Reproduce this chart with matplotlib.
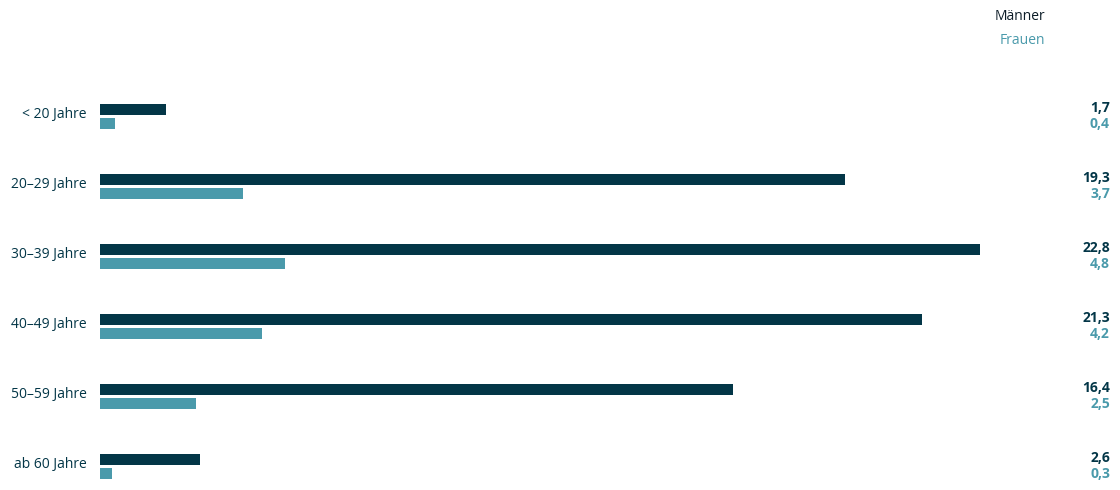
import matplotlib
matplotlib.use("Agg")
import matplotlib.pyplot as plt
import numpy as np

# ── data ──────────────────────────────────────────────────────────────────────
categories = ["< 20 Jahre", "20–29 Jahre", "30–39 Jahre",
              "40–49 Jahre", "50–59 Jahre", "ab 60 Jahre"]
maenner = [1.7, 19.3, 22.8, 21.3, 16.4, 2.6]
frauen  = [0.4, 3.7, 4.8, 4.2, 2.5, 0.3]

DARK = "#033647"
TEAL = "#4a9aab"

plt.rcParams["font.family"] = ["Open Sans", "DejaVu Sans"]

W, H = 1120, 490
fig = plt.figure(figsize=(W / 100, H / 100), dpi=100)
fig.patch.set_facecolor("white")

# axes spans bar area horizontally, full height vertically
ax = fig.add_axes([100 / W, 0, 880 / W, 1])
ax.set_xlim(0, 22.8)
ax.set_ylim((H - 116.5) / 70, -116.5 / 70)
ax.axis("off")

y = np.arange(len(categories))
off = 0.1
bh = 0.15
ax.barh(y - off, maenner, height=bh, color=DARK, left=0)
ax.barh(y + off, frauen, height=bh, color=TEAL, left=0)

xlab = -13 / 880 * 22.8
xval = (1110 - 100) / 880
for i, cat in enumerate(categories):
    ax.text(xlab, y[i] - 0.035, cat, ha="right", va="center", fontsize=10,
            color=DARK)
    ax.text(xval, y[i] - off - 0.02, f"{maenner[i]:.1f}".replace(".", ","),
            transform=ax.get_yaxis_transform(), ha="right", va="center",
            fontsize=10, fontweight="bold", color=DARK, clip_on=False)
    ax.text(xval, y[i] + off, f"{frauen[i]:.1f}".replace(".", ","),
            transform=ax.get_yaxis_transform(), ha="right", va="center",
            fontsize=10, fontweight="bold", color=TEAL, clip_on=False)

# legend as text
fig.text(1045 / W, 1 - 17 / H, "Männer", ha="right", va="center",
         fontsize=10, color="#0d1d28")
fig.text(1045 / W, 1 - 41 / H, "Frauen", ha="right", va="center",
         fontsize=10, color=TEAL)

fig.savefig("out.png", dpi=100, facecolor="white")
